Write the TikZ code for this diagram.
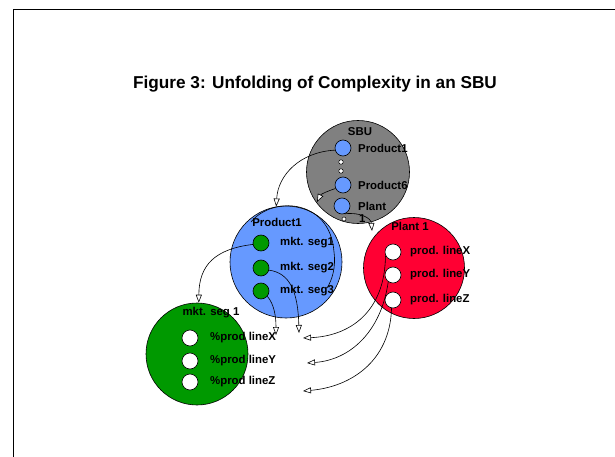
\documentclass[tikz,border=0pt]{standalone}
\usepackage{fontspec}
\setmainfont{Liberation Sans}
\usetikzlibrary{arrows.meta}
\definecolor{sbugray}{RGB}{128,128,128}
\definecolor{pblue}{RGB}{102,153,255}
\definecolor{pred}{RGB}{255,0,51}
\definecolor{pgreen}{RGB}{0,153,0}
\tikzset{
  bigc/.style={circle, draw=black, line width=0.6pt, inner sep=0pt},
  smallc/.style={circle, draw=black, line width=0.6pt, inner sep=0pt, minimum size=16pt},
  dotc/.style={circle, draw=black, fill=white, line width=0.5pt, inner sep=0pt, minimum size=4.5pt},
  lbl/.style={anchor=west, inner sep=0pt, font=\bfseries\fontsize{11.4}{13}\selectfont},
  clbl/.style={inner sep=0pt, font=\bfseries\fontsize{11.4}{13}\selectfont},
  conn/.style={line width=0.6pt, -{Triangle[length=8pt, width=6pt, fill=white]}},
  plainconn/.style={line width=0.6pt}
}
\begin{document}
\begin{tikzpicture}[x=1pt, y=-1pt]
\useasboundingbox (0,0) rectangle (615,457);
% frame
\draw[line width=1pt] (13,457) -- (13,10) -- (615,10);
% title
\node[inner sep=0pt, font=\bfseries\fontsize{17.2}{20}\selectfont] (title) at (315,84) {Figure 3: Unfolding of Complexity in an SBU};

% big circles
\node[bigc, fill=sbugray, minimum size=103pt] (sbu) at (358,172) {};
\node[bigc, fill=pblue, minimum size=112pt] (prod) at (286,262) {};
\node[bigc, fill=pred, minimum size=101pt] (plant) at (414,268) {};
\node[bigc, fill=pgreen, minimum size=102pt] (mseg) at (197,354) {};

% SBU contents
\node[clbl] (sbulbl) at (360,132) {SBU};
\node[smallc, fill=pblue] (p1) at (343,148) {};
\node[dotc] (d1) at (341,162) {};
\node[dotc] (d2) at (341,171) {};
\node[smallc, fill=pblue] (p6) at (343,185) {};
\node[smallc, fill=pblue] (pl) at (342,206) {};
\node[dotc, minimum size=4pt] (d3) at (344,219) {};
\node[lbl] (p1lbl) at (358,148) {Product1};
\node[lbl] (p6lbl) at (358,185) {Product6};
\node[lbl] (pllbl) at (358,206) {Plant};
\node[lbl] (pl1lbl) at (359,219) {1};

% Product1 contents
\node[clbl] (prodlbl) at (277,222) {Product1};
\node[smallc, fill=pgreen] (s1) at (261,243) {};
\node[smallc, fill=pgreen] (s2) at (261,268) {};
\node[smallc, fill=pgreen] (s3) at (261,291) {};
\node[lbl] (s1lbl) at (280,243) {mkt. seg1};
\node[lbl] (s2lbl) at (280,268) {mkt. seg2};
\node[lbl] (s3lbl) at (280,291) {mkt. seg3};

% Plant 1 contents
\node[clbl] (plantlbl) at (410,226) {Plant 1};
\node[smallc, fill=white] (px) at (393,252) {};
\node[smallc, fill=white] (py) at (393,275) {};
\node[smallc, fill=white] (pz) at (393,300) {};
\node[lbl] (pxlbl) at (410,252) {prod. lineX};
\node[lbl] (pylbl) at (410,275) {prod. lineY};
\node[lbl] (pzlbl) at (410,300) {prod. lineZ};

% mkt. seg 1 contents
\node[clbl] (mseglbl) at (211,313) {mkt. seg 1};
\node[smallc, fill=white] (mx) at (190,338) {};
\node[smallc, fill=white] (my) at (190,361) {};
\node[smallc, fill=white] (mz) at (190,382) {};
\node[lbl] (mxlbl) at (210,338) {\%prod lineX};
\node[lbl] (mylbl) at (210,361) {\%prod lineY};
\node[lbl] (mzlbl) at (210,382) {\%prod lineZ};

% free ends
\coordinate (t2) at (317,202);
\coordinate (t3) at (372,231);
\coordinate (ts2) at (299,333);
\coordinate (ts3) at (276,335);
\coordinate (tx) at (303,338);
\coordinate (ty) at (307,363);
\coordinate (tz) at (303,391);
\coordinate (arcA) at (251,222);
\coordinate (arcB) at (334,252);
\coordinate (arcC) at (327,288);

% connectors
\draw[conn] (p1.195) .. controls (300,152) and (278,175) .. (prod.100);
\draw[conn] (p6.205) .. controls (328,191) and (321,194) .. (t2);
\draw[conn] (pl.-70) .. controls (360,212) and (371,218) .. (t3);
\draw[plainconn] (arcA) .. controls (272,196) and (330,198) .. (arcB) .. controls (336,268) and (332,280) .. (arcC);
\draw[conn] (s1.190) .. controls (215,249) and (199,265) .. (mseg.88);
\draw[conn] (s2.-15) .. controls (290,273) and (298,292) .. (ts2);
\draw[conn] (s3.-40) .. controls (274,304) and (276,316) .. (ts3);
\draw[conn] (px.205) .. controls (385,312) and (350,336) .. (tx);
\draw[conn] (py.235) .. controls (381,332) and (350,360) .. (ty);
\draw[conn] (pz.260) .. controls (390,362) and (350,387) .. (tz);
\end{tikzpicture}
\end{document}
